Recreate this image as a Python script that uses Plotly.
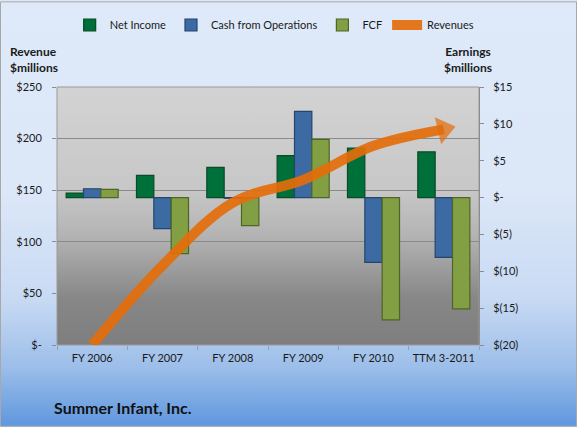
import base64
import plotly.graph_objects as go

categories = ["FY 2006", "FY 2007", "FY 2008", "FY 2009", "FY 2010", "TTM 3-2011"]
net_income = [0.6, 3.0, 4.1, 5.7, 6.7, 6.2]
cash_ops = [1.2, -4.2, -0.1, 11.7, -8.8, -8.1]
fcf = [1.1, -7.6, -3.8, 7.9, -16.6, -15.1]
revenues = [0, 77, 138, 160, 193, 209]

rev_tickvals = [0, 50, 100, 150, 200, 250]
rev_ticktext = ["$-", "$50", "$100", "$150", "$200", "$250"]
earn_tickvals = [-20, -15, -10, -5, 0, 5, 10, 15]
earn_ticktext = ["$(20)", "$(15)", "$(10)", "$(5)", "$-", "$5", "$10", "$15"]

W, H = 577, 427
ML, MR, MT, MB = 57, 98, 86, 82
PW, PH = W - ML - MR, H - MT - MB


def svg_grad(stops):
    st = "".join(f'<stop offset="{o}" stop-color="{c}"/>' for o, c in stops)
    svg = ('<svg xmlns="http://www.w3.org/2000/svg" width="100" height="100" preserveAspectRatio="none">'
           '<defs><linearGradient id="g" x1="0" y1="0" x2="0" y2="1">' + st +
           '</linearGradient></defs><rect width="100" height="100" fill="url(#g)"/></svg>')
    return "data:image/svg+xml;base64," + base64.b64encode(svg.encode()).decode()


paper_grad = svg_grad([(0, "#DEE9F9"), (0.45, "#DCE7F8"), (0.7, "#C8DAF3"),
                       (0.86, "#9CBEE9"), (1, "#5E97DE")])
plot_grad = svg_grad([(0, "#D3D3D3"), (0.4, "#C7C7C7"), (0.58, "#B3B3B3"),
                      (0.82, "#878787"), (1, "#7E7E7E")])

font = "Lato, 'Open Sans', sans-serif"

fig = go.Figure()
bar_specs = [
    ("Net Income", net_income, "#00703A", "#0B4A26"),
    ("Cash from Operations", cash_ops, "#3C6AA3", "#24456E"),
    ("FCF", fcf, "#82A043", "#4F6526"),
]
for name, vals, col, edge in bar_specs:
    fig.add_trace(go.Bar(x=categories, y=vals, name=name, yaxis="y",
                         marker=dict(color=col, line=dict(color=edge, width=1.2))))

fig.add_trace(go.Scatter(x=categories, y=revenues, name="Revenues", yaxis="y2",
                         mode="lines",
                         line=dict(color="rgba(228,108,10,0.92)", width=10, shape="spline", smoothing=1.0)))
fig.add_trace(go.Scatter(x=categories[-2:], y=revenues[-2:], yaxis="y2", mode="markers",
                         showlegend=False, hoverinfo="skip",
                         marker=dict(symbol="triangle-up", angleref="previous",
                                     size=[0, 24], color="rgb(228,108,10)",
                                     line=dict(width=0))))

fig.update_layout(
    width=W, height=H,
    margin=dict(l=ML, r=MR, t=MT, b=MB),
    paper_bgcolor="#DCE7F8",
    plot_bgcolor="rgba(0,0,0,0)",
    font=dict(family=font, size=11, color="#1a1a1a"),
    barmode="group", bargap=0.26, bargroupgap=0,
    showlegend=True,
    legend=dict(orientation="h", x=0.03, xanchor="left", y=1 + (MT - 25) / PH, yanchor="middle",
                bgcolor="rgba(0,0,0,0)", font=dict(size=11), traceorder="normal",
                itemwidth=30),
    xaxis=dict(type="category", tickfont=dict(size=11), ticks="outside", ticklen=4,
               tickcolor="#A0A0A0", tickson="boundaries", showgrid=False, showline=False,
               tickangle=0, range=[-0.5, 5.5], ticklabelstandoff=5),
    yaxis=dict(side="right", range=[-20, 15], tickvals=earn_tickvals, ticktext=earn_ticktext,
               showgrid=False, zeroline=False, showline=True, linecolor="#8C8C8C",
               ticks="outside", ticklen=4, tickcolor="#8C8C8C", tickfont=dict(size=11),
               ticklabelstandoff=7),
    yaxis2=dict(side="left", overlaying="y", range=[0, 250], tickvals=rev_tickvals,
                ticktext=rev_ticktext, showgrid=True, gridcolor="#8A8A8A", gridwidth=1,
                zeroline=False, showline=False, ticks="outside", ticklen=4, tickcolor="#8C8C8C",
                tickfont=dict(size=11), ticklabelstandoff=8),
    images=[
        dict(source=paper_grad, xref="paper", yref="paper", x=-ML / PW, y=1 + MT / PH,
             sizex=W / PW, sizey=H / PH, sizing="stretch", xanchor="left", yanchor="top",
             layer="below"),
        dict(source=plot_grad, xref="paper", yref="paper", x=0, y=1, sizex=1, sizey=1,
             sizing="stretch", xanchor="left", yanchor="top", layer="below"),
    ],
    shapes=[
        dict(type="rect", xref="paper", yref="paper", x0=0, x1=1, y0=0, y1=1,
             line=dict(color="#9A9A9A", width=1), fillcolor="rgba(0,0,0,0)", layer="below"),
        dict(type="rect", xref="paper", yref="paper", x0=(-ML + 0.5) / PW, x1=(W - ML - 0.5) / PW,
             y0=(-MB + 0.5) / PH, y1=1 + (MT - 0.5) / PH,
             line=dict(color="#A8A8A8", width=1), fillcolor="rgba(0,0,0,0)", layer="above"),
    ],
    annotations=[
        dict(text="<b>Revenue<br>$millions</b>", xref="paper", yref="paper",
             x=-23 / PW, y=1 + (MT - 58) / PH, xanchor="center", yanchor="middle",
             showarrow=False, align="left", font=dict(size=12, family=font)),
        dict(text="<b>Earnings<br>$millions</b>", xref="paper", yref="paper",
             x=1 + (468 - ML - PW) / PW, y=1 + (MT - 58) / PH, xanchor="center", yanchor="middle",
             showarrow=False, align="center", font=dict(size=12, family=font)),
        dict(text="<b>Summer Infant, Inc.</b>", xref="paper", yref="paper",
             x=(52 - ML) / PW, y=-(408 - MT - PH) / PH, xanchor="left", yanchor="middle",
             showarrow=False, font=dict(size=16, family=font, color="#111111")),
    ],
)

fig.write_html("out.html")
